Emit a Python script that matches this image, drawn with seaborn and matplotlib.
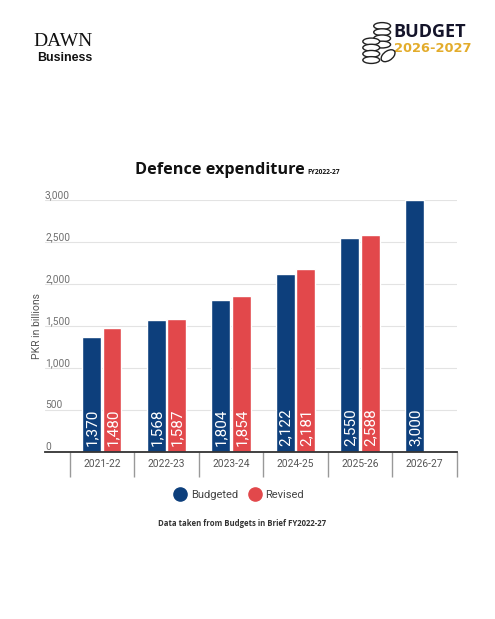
import numpy as np
import pandas as pd
import seaborn as sns
import matplotlib.pyplot as plt
from matplotlib.lines import Line2D
from matplotlib.patches import Ellipse

years = ["2021-22", "2022-23", "2023-24", "2024-25", "2025-26", "2026-27"]
budgeted = [1370, 1568, 1804, 2122, 2550, 3000]
revised = [1480, 1587, 1854, 2181, 2588, np.nan]
series = ["Budgeted", "Revised"]
colors = ["#0d3f7c", "#e2484b"]
yticks = [0, 500, 1000, 1500, 2000, 2500, 3000]

df = pd.DataFrame({
    "year": years * 2,
    "value": budgeted + revised,
    "series": ["Budgeted"] * len(years) + ["Revised"] * len(years),
})

sns.set_style("white")
plt.rcParams["font.family"] = ["Roboto", "DejaVu Sans"]

fig = plt.figure(figsize=(4.95, 6.19), dpi=100)
ax = fig.add_axes([0.091, 0.270, 0.832, 0.407])

sns.barplot(data=df, x="year", y="value", hue="series", order=years,
            hue_order=series, palette=colors, width=0.63, gap=0.07,
            saturation=1, errorbar=None, legend=False, ax=ax)

# value labels inside bars
for bar in ax.patches:
    h = bar.get_height()
    if np.isnan(h) or h <= 0:
        continue
    ax.annotate(f"{h:,.0f}", (bar.get_x() + bar.get_width() / 2, 0),
                xytext=(0.5, 4), textcoords="offset points",
                rotation=90, ha="center", va="bottom",
                color="white", fontsize=11)

ax.set_ylim(0, 3000)
ax.set_xlim(-0.88, 5.5)
ax.set_yticks(yticks)
ax.set_yticklabels([])
ax.tick_params(axis="y", length=0)
ax.grid(axis="y", color="#e3e3e3", lw=0.8)
ax.set_axisbelow(True)

for v in yticks:
    ax.text(0, v, f"{v:,}", transform=ax.get_yaxis_transform(),
            ha="left", va="bottom", fontsize=7.3, color="#707070")

ax.set_xticks(range(len(years)))
ax.set_xticklabels(years, fontsize=7.4, color="#555555")
ax.set_xticks(np.arange(-0.5, len(years), 1), minor=True)
ax.tick_params(axis="x", which="major", bottom=False, length=0, pad=5)
ax.tick_params(axis="x", which="minor", bottom=True, length=18, width=1,
               color="#999999")

for s in ["top", "right", "left"]:
    ax.spines[s].set_visible(False)
ax.spines["bottom"].set_color("#333333")
ax.spines["bottom"].set_linewidth(1.3)

ax.set_xlabel("")
ax.set_ylabel("PKR in billions", fontsize=7.5, color="#555555")
ax.yaxis.set_label_coords(-0.008, 0.50)

# title
fig.text(0.445, 0.725, "Defence expenditure", ha="center", va="center",
         fontsize=11.7, fontweight="bold", color="#111111",
         family=["Open Sans", "DejaVu Sans"])
fig.text(0.620, 0.721, "FY2022-27", ha="left", va="center",
         fontsize=4.8, fontweight="bold", color="#111111",
         family=["Open Sans", "DejaVu Sans"])

# legend
handles = [Line2D([], [], marker="o", ls="", markersize=9.5, color=c) for c in colors]
fig.legend(handles, series, loc="center", bbox_to_anchor=(0.482, 0.200),
           ncol=2, frameon=False, fontsize=8, labelcolor="#444444",
           handletextpad=0.35, columnspacing=0.9, handlelength=1.2)

fig.text(0.489, 0.155, "Data taken from Budgets in Brief FY2022-27",
         ha="center", va="center", fontsize=5.6, fontweight="bold",
         color="#333333", family=["Open Sans", "DejaVu Sans"])

# header logos
fig.text(0.068, 0.933, "DAWN", ha="left", va="center", fontsize=14,
         family=["Liberation Serif", "DejaVu Serif"], color="#111111")
fig.text(0.074, 0.906, "Business", ha="left", va="center", fontsize=8.9,
         fontweight="bold", family=["Liberation Sans", "DejaVu Sans"],
         color="#111111")
fig.text(0.794, 0.948, "BUDGET", ha="left", va="center", fontsize=13,
         fontweight="bold", family=["Open Sans", "DejaVu Sans"],
         color="#14142a")
fig.text(0.795, 0.921, "2026-2027", ha="left", va="center", fontsize=9.4,
         fontweight="bold", family=["DejaVu Sans"],
         color="#e3ac2b")

# simple coin stacks icon
for i in range(4):
    fig.add_artist(Ellipse((0.772, 0.958 - i * 0.010), 0.034, 0.011,
                           transform=fig.transFigure, fc="white",
                           ec="#222222", lw=1, zorder=5 + i))
for i in range(4):
    fig.add_artist(Ellipse((0.750, 0.933 - i * 0.010), 0.034, 0.011,
                           transform=fig.transFigure, fc="white",
                           ec="#222222", lw=1, zorder=10 + i))
fig.add_artist(Ellipse((0.784, 0.910), 0.030, 0.016, angle=25,
                       transform=fig.transFigure, fc="white",
                       ec="#222222", lw=1, zorder=15))

fig.savefig("out.png", dpi=100)
